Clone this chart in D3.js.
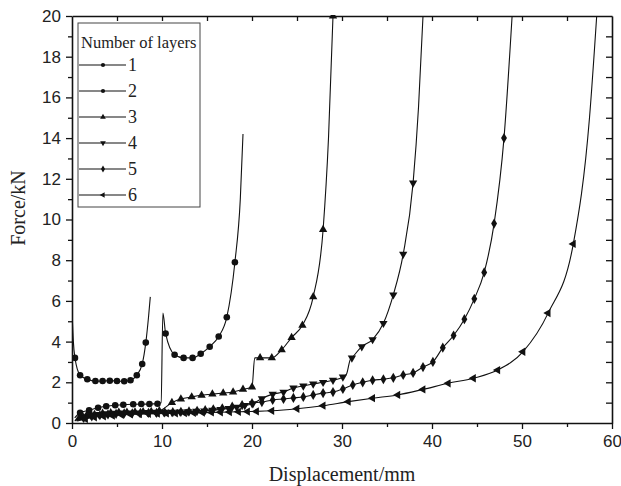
<!DOCTYPE html>
<html>
<head>
<meta charset="utf-8">
<script src="https://cdn.jsdelivr.net/npm/d3@7"></script>
<style>
  body { margin: 0; background: #fff; }
  svg { font-family: "Liberation Serif", "DejaVu Serif", serif; }
</style>
</head>
<body>
<div id="chart"></div>
<script>
// force-displacement curves, one per number of layers
// point = [displacement mm, force kN, marker?]  (0 = line only, no marker)
var layers1 = [[0.02,5.3,0],[0.15,4.0,0],[0.33,3.2],[0.9,2.35],[1.7,2.15],[2.6,2.06],[3.4,2.06],[4.2,2.08],[5.0,2.06],[5.8,2.05],[6.5,2.1],[7.2,2.35],[7.8,2.9],[8.2,3.95],[8.5,5.2,0],[8.7,6.2,0]];
var layers2 = [[0.3,0.25,0],[0.9,0.5],[1.9,0.62],[2.9,0.75],[3.8,0.82],[4.8,0.87],[5.7,0.9],[6.8,0.92],[7.7,0.93],[8.6,0.93],[9.5,0.95],[9.9,1.0,0],[10.1,5.4,0],[10.4,4.4],[11.4,3.35],[12.4,3.2],[13.4,3.2],[14.3,3.4],[15.3,3.75],[16.3,4.25],[17.2,5.2],[18.1,7.9],[18.7,11,0],[19.0,14.2,0]];
var layers3 = [[0.3,0.1,0],[0.8,0.25],[1.6,0.35],[2.5,0.42],[3.4,0.48],[4.3,0.5],[5.2,0.52],[6.1,0.53],[7.0,0.54],[7.9,0.55],[8.8,0.56],[9.7,0.6],[11.1,1.0],[12.1,1.18],[13.3,1.28],[14.4,1.36],[15.6,1.42],[16.8,1.47],[17.9,1.52],[19.0,1.65],[20.0,1.77],[20.3,3.2,0],[20.9,3.2],[22.2,3.2],[23.3,3.6],[24.4,4.2],[25.6,4.8],[26.8,6.2],[27.9,9.5],[28.5,14,0],[29.0,20.0]];
var layers4 = [[0.4,0.15,0],[1.2,0.3],[2.1,0.38],[3.0,0.42],[3.9,0.46],[4.8,0.48],[5.7,0.5],[6.6,0.5],[7.5,0.5],[8.4,0.52],[9.3,0.53],[10.2,0.53],[11.1,0.53],[12.0,0.55],[12.9,0.56],[13.8,0.58],[14.7,0.6],[15.6,0.63],[16.5,0.67],[17.4,0.72],[18.3,0.78],[19.2,0.86],[20.1,0.95],[21.1,1.2],[22.3,1.42],[23.5,1.52],[24.6,1.72],[25.7,1.82],[26.8,1.92],[27.9,2.0],[29.0,2.1],[30.1,2.26],[30.5,2.4,0],[30.9,3.1,0],[31.1,3.2],[32.2,3.75],[33.4,4.1],[34.6,4.9],[35.7,6.3],[36.8,8.3],[37.9,11.8],[38.5,15.5,0],[39.0,20.0,0]];
var layers5 = [[0.5,0.1,0],[1.3,0.25],[2.2,0.33],[3.1,0.38],[4.0,0.42],[4.9,0.45],[5.8,0.47],[6.7,0.48],[7.6,0.5],[8.5,0.5],[9.4,0.5],[10.3,0.52],[11.2,0.53],[12.1,0.55],[13.0,0.57],[13.9,0.6],[14.8,0.63],[15.7,0.67],[16.7,0.72],[17.8,0.8],[18.9,0.88],[20.0,0.98],[21.1,1.03],[22.3,1.13],[23.5,1.18],[24.6,1.23],[25.7,1.28],[26.8,1.38],[27.9,1.47],[29.0,1.52],[30.1,1.67],[31.2,1.87],[32.3,2.0],[33.4,2.1],[34.6,2.15],[35.7,2.22],[36.8,2.36],[37.9,2.46],[39.0,2.75],[40.1,3.0],[41.2,3.7],[42.4,4.3],[43.6,5.1],[44.7,6.1],[45.8,7.4],[46.9,9.8],[48.0,14.0],[48.9,20.0,0]];
var layers6 = [[0.6,0.1,0],[1.5,0.2],[2.5,0.28],[3.5,0.33],[4.5,0.36],[5.5,0.4],[6.5,0.42],[7.5,0.44],[8.5,0.45],[9.5,0.46],[10.5,0.47],[11.5,0.48],[12.5,0.49],[13.5,0.5],[14.5,0.51],[15.5,0.52],[16.5,0.53],[17.5,0.54],[18.5,0.55],[19.5,0.56],[20.5,0.57],[22.2,0.6],[25.0,0.7],[27.9,0.85],[30.7,1.05],[33.4,1.22],[36.2,1.38],[39.0,1.65],[41.8,1.95],[44.6,2.2],[47.3,2.6],[50.1,3.5],[52.9,5.4],[55.7,8.8],[57.5,15,0],[58.3,20,0]];

var seriesNames = ["1", "2", "3", "4", "5", "6"];
var seriesData = [layers1, layers2, layers3, layers4, layers5, layers6];
var xTicks = [0, 10, 20, 30, 40, 50, 60];
var yTicks = [0, 2, 4, 6, 8, 10, 12, 14, 16, 18, 20];
var legendTitle = "Number of layers";

var W = 621, H = 486;
var margin = {left: 72, right: 9, top: 16, bottom: 63};

var svg = d3.select("#chart").append("svg")
  .attr("width", W).attr("height", H);

var x = d3.scaleLinear().domain([0, 60]).range([margin.left, W - margin.right]);
var y = d3.scaleLinear().domain([0, 20]).range([H - margin.bottom, margin.top]);

// marker shapes: circle, circle, up, down, diamond, left
var shapes = [
  {t: d3.symbolCircle, r: 0},
  {t: d3.symbolCircle, r: 0},
  {t: d3.symbolTriangle, r: 0},
  {t: d3.symbolTriangle, r: 180},
  {t: d3.symbolDiamond, r: 0},
  {t: d3.symbolTriangle, r: -90}
];

svg.append("clipPath").attr("id", "plotclip")
  .append("rect")
  .attr("x", x(0)).attr("y", y(20) - 1)
  .attr("width", x(60) - x(0)).attr("height", y(0) - y(20) + 1);

var line = d3.line()
  .x(function(d) { return x(d[0]); })
  .y(function(d) { return y(d[1]); })
  .curve(d3.curveMonotoneX);

var plot = svg.append("g").attr("clip-path", "url(#plotclip)");

seriesData.forEach(function(s, i) {
  plot.append("path")
    .datum(s)
    .attr("d", line)
    .attr("fill", "none")
    .attr("stroke", "#111")
    .attr("stroke-width", 1.1);
  plot.selectAll(".m" + i)
    .data(s.filter(function(d) { return d[2] !== 0; }))
    .enter().append("path")
    .attr("class", "m" + i)
    .attr("d", d3.symbol().type(shapes[i].t).size(i < 2 ? 34 : 30))
    .attr("transform", function(d) {
      return "translate(" + x(d[0]) + "," + y(d[1]) + ") rotate(" + shapes[i].r + ")";
    })
    .attr("fill", "#111");
});

// axes
var minorX = d3.range(5, 60, 10);
var minorY = d3.range(1, 20, 2);

function styleAxis(g) {
  g.select(".domain").attr("stroke", "#111").attr("stroke-width", 1.6);
  g.selectAll(".tick line").attr("stroke", "#111").attr("stroke-width", 1.3);
  g.selectAll(".tick text").attr("fill", "#222").style("font-size", "17px");
}

var gx = svg.append("g")
  .attr("transform", "translate(0," + y(0) + ")")
  .call(d3.axisBottom(x).tickValues(xTicks).tickSize(6).tickSizeOuter(0).tickPadding(6));
styleAxis(gx);
svg.append("g")
  .attr("transform", "translate(0," + y(0) + ")")
  .call(d3.axisBottom(x).tickValues(minorX).tickSize(4).tickFormat(""))
  .call(function(g) { g.select(".domain").remove(); styleAxis(g); });

var gy = svg.append("g")
  .attr("transform", "translate(" + x(0) + ",0)")
  .call(d3.axisLeft(y).tickValues(yTicks).tickSize(6).tickSizeOuter(0).tickPadding(5));
styleAxis(gy);
svg.append("g")
  .attr("transform", "translate(" + x(0) + ",0)")
  .call(d3.axisLeft(y).tickValues(minorY).tickSize(4).tickFormat(""))
  .call(function(g) { g.select(".domain").remove(); styleAxis(g); });

// top and right frame, ticks inward
var gt = svg.append("g")
  .attr("transform", "translate(0," + y(20) + ")")
  .call(d3.axisBottom(x).tickValues(d3.range(5, 60, 5)).tickSize(5).tickSizeOuter(0).tickFormat(""));
styleAxis(gt);
var gr = svg.append("g")
  .attr("transform", "translate(" + x(60) + ",0)")
  .call(d3.axisLeft(y).tickValues(d3.range(1, 20, 1)).tickSize(6).tickSizeOuter(0).tickFormat(""));
styleAxis(gr);

// axis titles
svg.append("text")
  .attr("x", (x(0) + x(60)) / 2).attr("y", 481)
  .attr("text-anchor", "middle")
  .style("font-size", "20px").attr("fill", "#222")
  .text("Displacement/mm");
svg.append("text")
  .attr("transform", "translate(25," + 208 + ") rotate(-90)")
  .attr("text-anchor", "middle")
  .style("font-size", "20px").attr("fill", "#222")
  .text("Force/kN");

// legend
var lg = svg.append("g");
lg.append("rect")
  .attr("x", 78).attr("y", 23).attr("width", 122).attr("height", 184)
  .attr("fill", "#fff").attr("stroke", "#444").attr("stroke-width", 1);
lg.append("text")
  .attr("x", 81).attr("y", 48)
  .style("font-size", "16.5px").attr("fill", "#222")
  .text(legendTitle);
seriesNames.forEach(function(name, i) {
  var yy = 65 + i * 26;
  lg.append("line")
    .attr("x1", 79).attr("x2", 126).attr("y1", yy).attr("y2", yy)
    .attr("stroke", "#111").attr("stroke-width", 1.1);
  lg.append("path")
    .attr("d", d3.symbol().type(shapes[i].t).size(14))
    .attr("transform", "translate(103," + yy + ") rotate(" + shapes[i].r + ")")
    .attr("fill", "#111");
  lg.append("text")
    .attr("x", 128).attr("y", yy + 6)
    .style("font-size", "18px").attr("fill", "#222")
    .text(name);
});
</script>
</body>
</html>
